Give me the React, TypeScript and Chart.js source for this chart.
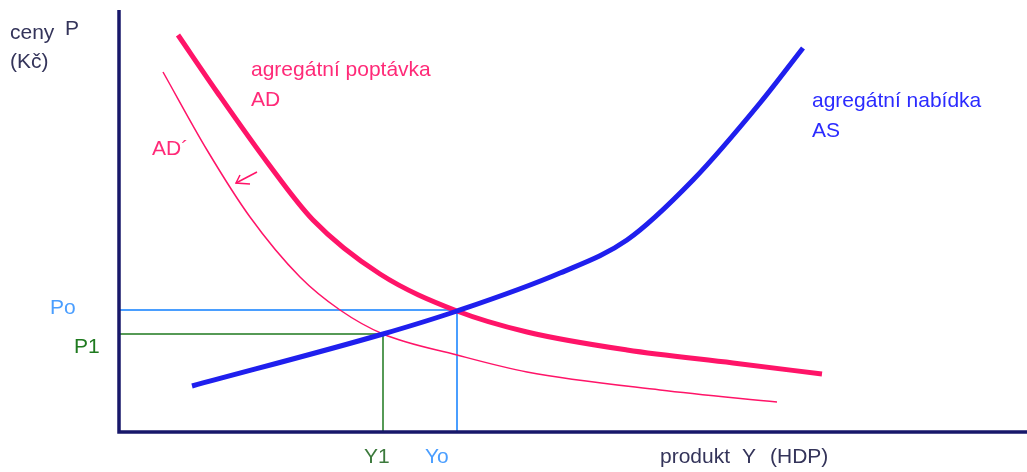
import React, { useEffect, useRef } from "react";
import { Chart, registerables } from "chart.js";

Chart.register(...registerables);

type P = { x: number; y: number };

// Aggregate demand AD (thick), shifted AD´ (thin), aggregate supply AS
const adX = [59, 98, 148, 194, 261, 338, 408, 508, 614, 703];
const adY = [397, 340, 270, 212, 158, 121, 100, 82, 69, 58];

const ad2X = [44, 88, 131, 181, 221, 264, 338, 408, 541, 658];
const ad2Y = [360, 282, 215, 155, 122, 98, 77, 60, 42, 30];

const asX = [73, 264, 338, 441, 508, 574, 641, 684];
const asY = [46, 98, 121, 159, 192, 252, 329, 384];

// equilibrium levels
const Yo = 338;
const Po = 122;
const Y1 = 264;
const P1 = 98;

// axis extents
const xMax = 908;
const yMax = 422;

// shift arrow AD -> AD´
const arrowShaftX = [138, 117];
const arrowShaftY = [260, 249];
const arrowHeadX = [121, 117, 131];
const arrowHeadY = [257, 249, 248];

const PINK = "#ff1468";
const PINK_TXT = "#ff2a78";
const BLUE = "#1f1fee";
const BLUE_TXT = "#2b2bff";
const LIGHT_BLUE = "#4a9eff";
const GREEN = "#1f7a1f";
const NAVY = "#17176a";
const GREY_TXT = "#34345a";

const labels = [
  { t: "ceny", x: -109, y: 393, c: GREY_TXT },
  { t: "P", x: -54, y: 397, c: GREY_TXT },
  { t: "(Kč)", x: -109, y: 364, c: GREY_TXT },
  { t: "agregátní poptávka", x: 132, y: 356, c: PINK_TXT },
  { t: "AD", x: 132, y: 326, c: PINK_TXT },
  { t: "AD´", x: 33, y: 277, c: PINK_TXT },
  { t: "agregátní nabídka", x: 693, y: 325, c: BLUE_TXT },
  { t: "AS", x: 693, y: 295, c: BLUE_TXT },
  { t: "Po", x: -69, y: 118, c: LIGHT_BLUE },
  { t: "P1", x: -45, y: 79, c: GREEN },
  { t: "Y1", x: 245, y: -31, c: "#3c7a3c" },
  { t: "Yo", x: 306, y: -31, c: LIGHT_BLUE },
  { t: "produkt", x: 541, y: -31, c: GREY_TXT },
  { t: "Y", x: 623, y: -31, c: GREY_TXT },
  { t: "(HDP)", x: 651, y: -31, c: GREY_TXT },
];

const zip = (xs: number[], ys: number[]): P[] => xs.map((x, i) => ({ x, y: ys[i] }));

const textPlugin = {
  id: "texts",
  afterDatasetsDraw(chart: any) {
    const { ctx, scales } = chart;
    ctx.save();
    ctx.font = '21px "Liberation Sans", Arial, sans-serif';
    ctx.textBaseline = "alphabetic";
    ctx.textAlign = "left";
    for (const l of labels) {
      ctx.fillStyle = l.c;
      ctx.fillText(l.t, scales.x.getPixelForValue(l.x), scales.y.getPixelForValue(l.y));
    }
    ctx.restore();
  },
};

export default function App() {
  const ref = useRef<HTMLCanvasElement | null>(null);
  useEffect(() => {
    if (!ref.current) return;
    const base = { pointRadius: 0, fill: false, clip: false as any, showLine: true };
    const smooth = { cubicInterpolationMode: "monotone" as const };
    const chart = new Chart(ref.current, {
      type: "scatter",
      data: {
        datasets: [
          { ...base, label: "axes", data: [{ x: 0, y: yMax }, { x: 0, y: 0 }, { x: xMax, y: 0 }], borderColor: NAVY, borderWidth: 3.5, order: 0 },
          { ...base, ...smooth, label: "AS", data: zip(asX, asY), borderColor: BLUE, borderWidth: 5, order: 1 },
          { ...base, ...smooth, label: "AD", data: zip(adX, adY), borderColor: PINK, borderWidth: 5, order: 2 },
          { ...base, ...smooth, label: "AD´", data: zip(ad2X, ad2Y), borderColor: PINK, borderWidth: 1.5, order: 3 },
          { ...base, label: "arrow", data: zip(arrowShaftX, arrowShaftY), borderColor: PINK, borderWidth: 1.5, order: 3 },
          { ...base, label: "arrowHead", data: zip(arrowHeadX, arrowHeadY), borderColor: PINK, borderWidth: 1.5, order: 3 },
          { ...base, label: "Po/Yo", data: [{ x: 0, y: Po }, { x: Yo, y: Po }, { x: Yo, y: 0 }], borderColor: LIGHT_BLUE, borderWidth: 2, order: 4 },
          { ...base, label: "P1/Y1", data: [{ x: 0, y: P1 }, { x: Y1, y: P1 }, { x: Y1, y: 0 }], borderColor: GREEN, borderWidth: 1.5, order: 4 },
        ],
      },
      options: {
        animation: false,
        responsive: true,
        maintainAspectRatio: false,
        layout: { padding: { left: 119, right: 0, top: 10, bottom: 40 } },
        plugins: { legend: { display: false }, tooltip: { enabled: false } },
        scales: {
          x: { type: "linear", display: false, min: 0, max: xMax },
          y: { type: "linear", display: false, min: 0, max: yMax },
        },
      },
      plugins: [textPlugin],
    });
    return () => chart.destroy();
  }, []);
  return (
    <div style={{ position: "absolute", left: 0, top: 0, width: 1027, height: 472, background: "#fff" }}>
      <canvas ref={ref} />
    </div>
  );
}
